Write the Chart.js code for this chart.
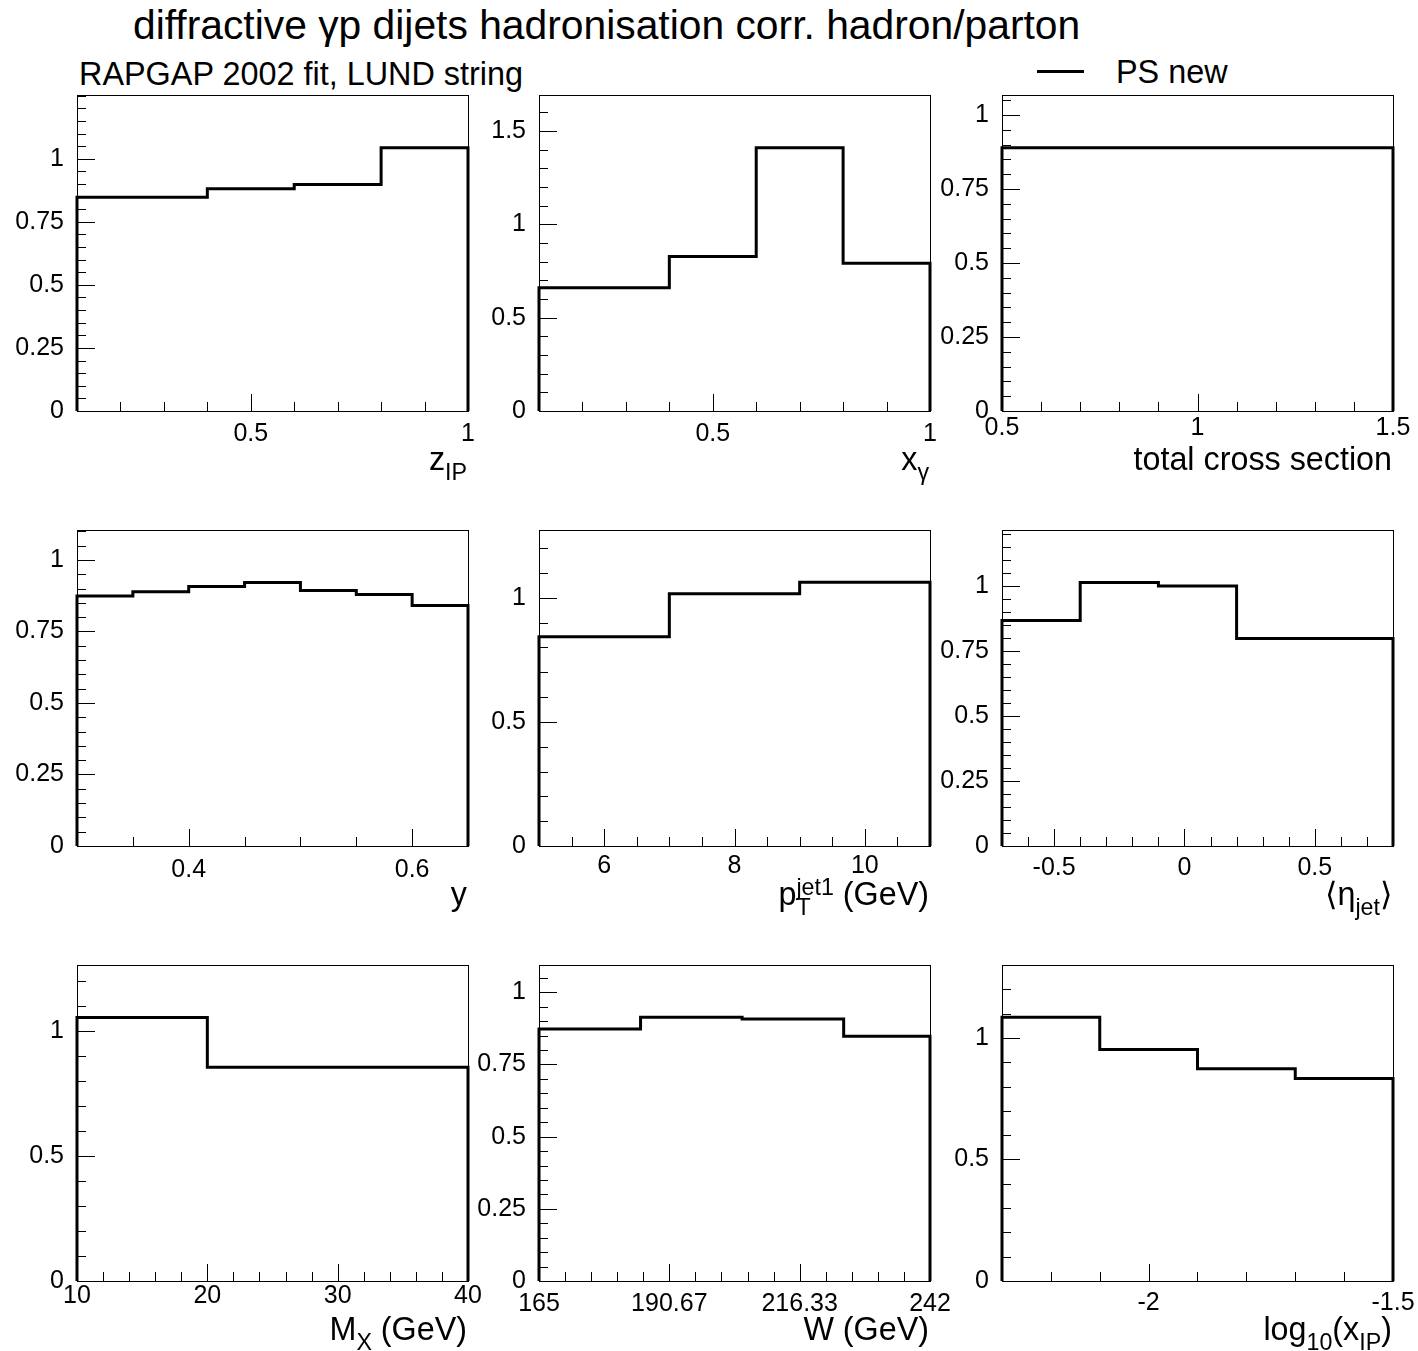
<!DOCTYPE html>
<html>
<head>
<meta charset="utf-8">
<script src="https://cdn.jsdelivr.net/npm/chart.js@4.4.1/dist/chart.umd.min.js"></script>
<style>
  html,body{margin:0;padding:0;background:#fff;}
  body{position:relative;width:1418px;height:1351px;overflow:hidden;font-family:"Liberation Sans",Arial,Helvetica,sans-serif;color:#000;}
  canvas{position:absolute;}
  .t{position:absolute;white-space:nowrap;line-height:1;}
  .sub{font-size:0.72em;position:relative;top:0.46em;}
  .sup{font-size:0.72em;position:relative;top:-0.42em;}
</style>
</head>
<body>
<div id="title" class="t" style="left:133px;top:5px;font-size:40.8px;">diffractive γp dijets hadronisation corr. hadron/parton</div>
<div id="subtitle" class="t" style="left:79px;top:57.5px;font-size:32.4px;">RAPGAP 2002 fit, LUND string</div>
<div id="legLine" style="position:absolute;left:1037px;top:70px;width:47px;height:3px;background:#000;"></div>
<div id="legText" class="t" style="left:1116px;top:55.5px;font-size:32.4px;">PS new</div>
<script>
// ---------------- data ----------------
const seriesLabel = 'PS new';

const zIPEdges   = [0.1, 0.4, 0.6, 0.8, 1.0];
const zIPValues  = [0.847, 0.881, 0.898, 1.044];

const xGamEdges  = [0.1, 0.4, 0.6, 0.8, 1.0];
const xGamValues = [0.660, 0.827, 1.410, 0.791];

const totEdges   = [0.5, 1.5];
const totValues  = [0.8895];

const yEdges     = [0.3, 0.35, 0.4, 0.45, 0.5, 0.55, 0.6, 0.65];
const yValues    = [0.874, 0.889, 0.907, 0.921, 0.893, 0.879, 0.841];

const ptEdges    = [5, 7, 9, 11];
const ptValues   = [0.843, 1.016, 1.063];

const etaEdges   = [-0.7, -0.4, -0.1, 0.2, 0.8];
const etaValues  = [0.868, 1.014, 1.001, 0.799];

const mxEdges    = [10, 20, 40];
const mxValues   = [1.055, 0.856];

const wEdges     = [165, 185, 205, 225, 242];
const wValues    = [0.873, 0.9135, 0.9076, 0.848];

const xIPEdges   = [-2.3, -2.1, -1.9, -1.7, -1.5];
const xIPValues  = [1.085, 0.952, 0.873, 0.833];

// tick labels
const zIPTickLabels  = [0.5, 1];
const xGamTickLabels = [0.5, 1];
const totTickLabels  = [0.5, 1, 1.5];
const yTickLabels    = [0.4, 0.6];
const ptTickLabels   = [6, 8, 10];
const etaTickLabels  = [-0.5, 0, 0.5];
const mxTickLabels   = [10, 20, 30, 40];
const wTickLabels    = [165, 190.67, 216.33, 242];
const xIPTickLabels  = [-2, -1.5];

const yLabelsQuarter = [0, 0.25, 0.5, 0.75, 1];
const yLabelsHalf15  = [0, 0.5, 1, 1.5];
const yLabelsHalf    = [0, 0.5, 1];

// axis ranges
const xRanges = [[0.1,1],[0.1,1],[0.5,1.5],[0.3,0.65],[5,11],[-0.7,0.8],[10,40],[165,242],[-2.3,-1.5]];
const yMaxima = [1.2528, 1.692, 1.0674, 1.1046, 1.2734, 1.2162, 1.265, 1.0945, 1.300];

const axisTitles = [
  'z<span class="sub">IP</span>',
  'x<span class="sub">γ</span>',
  'total cross section',
  'y',
  'p<span class="sub">T</span><span class="sup" style="margin-left:-0.611em">jet1</span> (GeV)',
  '⟨η<span class="sub">jet</span>⟩',
  'M<span class="sub">X</span> (GeV)',
  'W (GeV)',
  'log<span class="sub">10</span>(x<span class="sub">IP</span>)'
];

// ---------------- layout / style ----------------
const FRAME_W = 391, FRAME_H = 316;
const colLeft = [77, 539, 1002];
const rowTop  = [95, 530, 965];
const PAD_L = 77, PAD_T = 30, PAD_R = 35, PAD_B = 90;
const TICK_FONT = 25, TITLE_FONT = 32.3;

Chart.defaults.font.family = '"Liberation Sans", Arial, Helvetica, sans-serif';

const panels = [
  {edges:zIPEdges,  values:zIPValues,  xLab:zIPTickLabels,  xMinor:0.1,  yLab:yLabelsQuarter, yMinor:0.05, pad:8},
  {edges:xGamEdges, values:xGamValues, xLab:xGamTickLabels, xMinor:0.1,  yLab:yLabelsHalf15,  yMinor:0.1,  pad:8},
  {edges:totEdges,  values:totValues,  xLab:totTickLabels,  xMinor:0.1,  yLab:yLabelsQuarter, yMinor:0.05, pad:2},
  {edges:yEdges,    values:yValues,    xLab:yTickLabels,    xMinor:0.05, yLab:yLabelsQuarter, yMinor:0.05, pad:9},
  {edges:ptEdges,   values:ptValues,   xLab:ptTickLabels,   xMinor:0.5,  yLab:yLabelsHalf,    yMinor:0.1,  pad:5},
  {edges:etaEdges,  values:etaValues,  xLab:etaTickLabels,  xMinor:0.1,  yLab:yLabelsQuarter, yMinor:0.05, pad:7},
  {edges:mxEdges,   values:mxValues,   xLab:mxTickLabels,   xMinor:2,    yLab:yLabelsHalf,    yMinor:0.1,  pad:0},
  {edges:wEdges,    values:wValues,    xLab:wTickLabels,    xMinor:77/15,yLab:yLabelsQuarter, yMinor:0.05, pad:8, xBase:165},
  {edges:xIPEdges,  values:xIPValues,  xLab:xIPTickLabels,  xMinor:0.1,  yLab:yLabelsHalf,    yMinor:0.1,  pad:7}
];

function stepPoints(edges, values){
  const pts = [{x:edges[0], y:0}];
  values.forEach((v,i)=>{ pts.push({x:edges[i], y:v}); pts.push({x:edges[i+1], y:v}); });
  pts.push({x:edges[edges.length-1], y:0});
  return pts;
}
function ticksBetween(min, max, step, base){
  const out = [];
  const k0 = Math.ceil((min-base)/step - 1e-6), k1 = Math.floor((max-base)/step + 1e-6);
  for (let k=k0; k<=k1; k++) out.push(base + k*step);
  return out;
}
function framePlugin(p){
  return {
    id:'rootFrame',
    beforeDatasetsDraw(chart){
      const {ctx, chartArea:a} = chart; const xs = chart.scales.x, ys = chart.scales.y;
      const L=Math.round(a.left), R=Math.round(a.right), T=Math.round(a.top), B=Math.round(a.bottom);
      ctx.save();
      ctx.lineWidth = 1; ctx.strokeStyle = '#000';
      ctx.strokeRect(L+0.5, T+0.5, R-L, B-T);
      ctx.beginPath();
      ticksBetween(p.xMin, p.xMax, p.xMinor, p.xBase||0).forEach(v=>{
        const px = Math.round(xs.getPixelForValue(v))+0.5; ctx.moveTo(px, B); ctx.lineTo(px, B-9);
      });
      p.xLab.forEach(v=>{
        const px = Math.round(xs.getPixelForValue(v))+0.5; ctx.moveTo(px, B); ctx.lineTo(px, B-17);
      });
      ticksBetween(0, p.yMax, p.yMinor, 0).forEach(v=>{
        const py = Math.round(ys.getPixelForValue(v))+0.5; ctx.moveTo(L, py); ctx.lineTo(L+9, py);
      });
      p.yLab.forEach(v=>{
        const py = Math.round(ys.getPixelForValue(v))+0.5; ctx.moveTo(L, py); ctx.lineTo(L+18, py);
      });
      ctx.stroke();
      ctx.restore();
    }
  };
}

panels.forEach((p, i)=>{
  p.xMin = xRanges[i][0]; p.xMax = xRanges[i][1]; p.yMax = yMaxima[i];
  const col = i % 3, row = Math.floor(i/3);
  const cv = document.createElement('canvas');
  const w = PAD_L + FRAME_W + PAD_R, h = PAD_T + FRAME_H + PAD_B;
  cv.width = w; cv.height = h;
  cv.style.width = w+'px'; cv.style.height = h+'px';
  cv.style.left = (colLeft[col]-PAD_L)+'px';
  cv.style.top  = (rowTop[row]-PAD_T)+'px';
  document.body.appendChild(cv);

  new Chart(cv.getContext('2d'), {
    type:'line',
    data:{datasets:[{
      label:seriesLabel, data:stepPoints(p.edges, p.values),
      borderColor:'#000', borderWidth:3, pointRadius:0, pointHoverRadius:0,
      fill:false, tension:0, clip:false, borderJoinStyle:'miter', borderCapStyle:'butt'
    }]},
    options:{
      responsive:false, animation:false, events:[], devicePixelRatio:1,
      layout:{padding:{left:0, top:PAD_T, right:PAD_R, bottom:0}},
      plugins:{legend:{display:false}, tooltip:{enabled:false}, title:{display:false}},
      scales:{
        x:{type:'linear', position:'bottom', bounds:'data', min:p.xMin, max:p.xMax,
           grid:{display:false, drawTicks:false}, border:{display:false},
           afterBuildTicks:s=>{ s.ticks = p.xLab.map(v=>({value:v})); },
           afterFit:s=>{ s.height = PAD_B; },
           ticks:{autoSkip:false, maxRotation:0, minRotation:0, padding:p.pad, color:'#000',
                  font:{size:TICK_FONT}, callback:v=>String(v)}},
        y:{type:'linear', position:'left', bounds:'data', min:0, max:p.yMax,
           grid:{display:false, drawTicks:false}, border:{display:false},
           afterBuildTicks:s=>{ s.ticks = p.yLab.map(v=>({value:v})); },
           afterFit:s=>{ s.width = PAD_L; },
           ticks:{autoSkip:false, padding:13, color:'#000', font:{size:TICK_FONT}, callback:v=>String(v)}}
      }
    },
    plugins:[framePlugin(p)]
  });

  const d = document.createElement('div');
  d.className = 't';
  d.style.fontSize = TITLE_FONT + 'px';
  d.style.right = (1418 - (colLeft[col]+FRAME_W) + 1) + 'px';
  d.style.top = (rowTop[row] + FRAME_H + 59 - 0.8465*TITLE_FONT) + 'px';
  d.innerHTML = axisTitles[i];
  document.body.appendChild(d);
});
</script>
</body>
</html>
